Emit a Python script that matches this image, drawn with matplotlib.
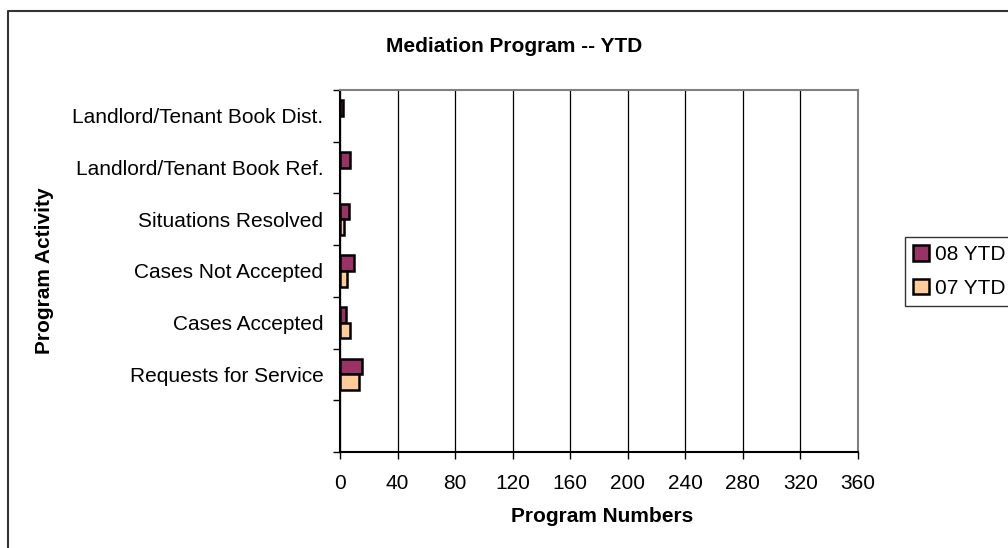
import matplotlib
matplotlib.use("Agg")
import matplotlib.pyplot as plt
import numpy as np
from matplotlib.lines import Line2D
from matplotlib.patches import Patch

plt.rcParams['font.family'] = ['Liberation Sans', 'DejaVu Sans']

categories = ["Landlord/Tenant Book Dist.", "Landlord/Tenant Book Ref.",
              "Situations Resolved", "Cases Not Accepted", "Cases Accepted",
              "Requests for Service", ""]
ytd08 = [2, 7, 6, 10, 4, 15, 0]
ytd07 = [0, 0, 3, 5, 7, 13, 0]
series_labels = ["08 YTD", "07 YTD"]
series_colors = ["#993366", "#FFCC99"]
xticks = [0, 40, 80, 120, 160, 200, 240, 280, 320, 360]

W, H = 1008, 548
FS = 15
fig = plt.figure(figsize=(W / 100, H / 100), dpi=100)
ax = fig.add_axes([340 / W, 1 - 452 / H, (858 - 340) / W, (452 - 90) / H])

pos = np.arange(len(categories))
h = 0.3
b08 = ax.barh(pos - h / 2, ytd08, height=h, color=series_colors[0], edgecolor="black",
              linewidth=1.8, zorder=3)
b07 = ax.barh(pos + h / 2, ytd07, height=h, color=series_colors[1], edgecolor="black",
              linewidth=1.8, zorder=3)
for cont, vals in ((b08, ytd08), (b07, ytd07)):
    for patch, v in zip(cont.patches, vals):
        if v == 0:
            patch.set_visible(False)

ax.set_ylim(len(categories) - 0.5, -0.5)
ax.set_xlim(xticks[0], xticks[-1])
ax.set_xticks(xticks)
ax.tick_params(axis='x', labelsize=FS, length=5, width=1, direction='out', pad=11)
ax.set_yticks(np.arange(len(categories) + 1) - 0.5)
ax.set_yticklabels([])
ax.tick_params(axis='y', which='major', length=5, width=1, direction='out')
ax.set_yticks(pos, minor=True)
ax.set_yticklabels(categories, minor=True, fontsize=FS)
ax.tick_params(axis='y', which='minor', length=0, pad=12)

ax.grid(axis='x', color='black', linewidth=0.9, zorder=0)
for s in ['top', 'right']:
    ax.spines[s].set_color('#808080')
    ax.spines[s].set_linewidth(1.5)
for s in ['left', 'bottom']:
    ax.spines[s].set_color('black')
    ax.spines[s].set_linewidth(1.5)

fig.text(602 / W, 1 - 517 / H, "Program Numbers", fontsize=FS,
         fontweight='bold', ha='center', va='center')
fig.text(45 / W, 1 - 271 / H, "Program Activity", rotation=90, fontsize=FS,
         fontweight='bold', ha='center', va='center')
fig.text(514 / W, 1 - 47 / H, "Mediation Program -- YTD", fontsize=FS,
         fontweight='bold', ha='center', va='center')

handles = [Patch(facecolor=c, edgecolor='black', linewidth=1.8) for c in series_colors]
leg = ax.legend(handles, series_labels, loc='upper left',
                bbox_to_anchor=(905 / W, 1 - 237 / H),
                bbox_transform=fig.transFigure, frameon=True, fancybox=False,
                fontsize=FS, handlelength=0.75, handleheight=0.75,
                handletextpad=0.3, borderpad=0.4, labelspacing=0.7,
                borderaxespad=0)
leg.get_frame().set_edgecolor('black')
leg.get_frame().set_linewidth(1.0)

fig.add_artist(Line2D([8 / W, 8 / W, 1.0], [0.0, 1 - 11 / H, 1 - 11 / H],
                      transform=fig.transFigure, color='#333333', linewidth=1.5))

fig.savefig("out.png", dpi=100)
